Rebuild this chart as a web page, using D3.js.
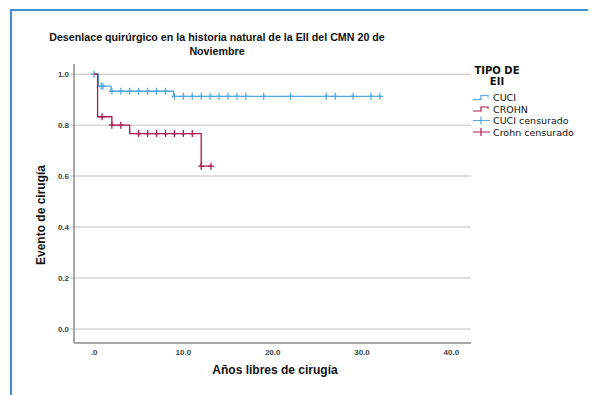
<!DOCTYPE html>
<html><head><meta charset="utf-8">
<script src="https://cdn.jsdelivr.net/npm/d3@7/dist/d3.min.js"></script>
<style>body{margin:0;background:#fff}svg{display:block}</style>
</head><body>
<script>
// Data
const titleLines = ["Desenlace quirúrgico en la historia natural de la EII del CMN 20 de", "Noviembre"];
const xTicks = [0, 10, 20, 30, 40];
const xTickLabels = [".0", "10.0", "20.0", "30.0", "40.0"];
const yTicks = [0, 0.2, 0.4, 0.6, 0.8, 1.0];
const yTickLabels = ["0.0", "0.2", "0.4", "0.6", "0.8", "1.0"];
const legendTitle = ["TIPO DE", "EII"];
const legendNames = ["CUCI", "CROHN", "CUCI censurado", "Crohn censurado"];
// CUCI (blue)
const cuciEventTimes = [0.5, 1.9, 8.9];
const cuciSurvival = [0.953, 0.933, 0.913];
const cuciCensored = [0, 0.8, 1.0, 2, 3, 4, 5, 6, 7, 8, 9, 10, 11, 12, 13, 14, 15, 16, 17, 19, 22, 26, 27, 29, 31, 32];
const cuciEnd = 32;
// CROHN (red)
const crohnEventTimes = [0.4, 2.0, 4.0, 12.0];
const crohnSurvival = [0.833, 0.8, 0.767, 0.639];
const crohnCensored = [0.9, 2, 3, 5, 6, 7, 8, 9, 10, 11, 12, 13.1];
const crohnEnd = 13.1;

const W = 590, H = 395;
const blue = "#55a8de", red = "#b01850";
const svg = d3.select("body").append("svg").attr("width", W).attr("height", H);

// frame
svg.append("path").attr("d", "M11,395 V10 H588").attr("fill", "none").attr("stroke", "#3f90d8").attr("stroke-width", 2);

const x = d3.scaleLinear().domain([-2.24, 42.2]).range([74, 471]);
const y = d3.scaleLinear().domain([-0.055, 1.04]).range([343, 64]);

// gridlines
svg.append("g").selectAll("line").data(yTicks).join("line")
  .attr("x1", 70).attr("x2", 471).attr("y1", d => y(d)).attr("y2", d => y(d))
  .attr("stroke", "#d4d4d4").attr("stroke-width", 1.5);

// axes lines
svg.append("line").attr("x1", 74).attr("x2", 74).attr("y1", 64).attr("y2", 343).attr("stroke", "#8a8a8a").attr("stroke-width", 1.5);
svg.append("line").attr("x1", 74).attr("x2", 471).attr("y1", 343).attr("y2", 343).attr("stroke", "#8a8a8a").attr("stroke-width", 1.5);

// tick labels
svg.append("g").selectAll("text").data(yTicks).join("text")
  .attr("x", 69).attr("y", d => y(d) + 3)
  .attr("text-anchor", "end").attr("font-family", "Liberation Sans, Arial").attr("font-size", 8).attr("font-weight", "bold").attr("fill", "#444")
  .text((d, i) => yTickLabels[i]);
svg.append("g").selectAll("text").data(xTicks).join("text")
  .attr("x", d => x(d)).attr("y", 355)
  .attr("text-anchor", "middle").attr("font-family", "Liberation Sans, Arial").attr("font-size", 8).attr("font-weight", "bold").attr("fill", "#444")
  .text((d, i) => xTickLabels[i]);

// titles
svg.append("g").selectAll("text").data(titleLines).join("text")
  .attr("x", 217).attr("y", (d, i) => 41 + i * 14)
  .attr("text-anchor", "middle").attr("font-family", "Liberation Sans, Arial").attr("font-size", 10.7).attr("font-weight", "bold").attr("fill", "#111")
  .text(d => d);
svg.append("text").attr("x", 275).attr("y", 374).attr("text-anchor", "middle")
  .attr("font-family", "Liberation Sans, Arial").attr("font-size", 12).attr("font-weight", "bold").attr("fill", "#111")
  .text("Años libres de cirugía");
svg.append("text").attr("x", 201).attr("y", 375).attr("text-anchor", "middle")
  .attr("font-family", "Liberation Sans, Arial").attr("font-size", 6).attr("fill", "#999").text(".");
svg.append("text").attr("transform", "translate(45,215) rotate(-90)").attr("text-anchor", "middle")
  .attr("font-family", "Liberation Sans, Arial").attr("font-size", 12).attr("font-weight", "bold").attr("fill", "#111")
  .text("Evento de cirugía");

// KM curves
function survAt(times, surv, t) {
  let s = 1;
  times.forEach((et, i) => { if (t >= et) s = surv[i]; });
  return s;
}
function stepPoints(times, surv, end) {
  const pts = [[0, 1]];
  times.forEach((t, i) => pts.push([t, surv[i]]));
  pts.push([end, surv[surv.length - 1]]);
  return pts;
}
const line = d3.line().x(d => x(d[0])).y(d => y(d[1])).curve(d3.curveStepAfter);

function drawSeries(times, surv, cens, end, color) {
  svg.append("path").datum(stepPoints(times, surv, end)).attr("d", line)
    .attr("fill", "none").attr("stroke", color).attr("stroke-width", 1.3);
  const g = svg.append("g").attr("stroke", color).attr("stroke-width", 1.3);
  cens.forEach(t => {
    const cx = x(t), cy = y(survAt(times, surv, t));
    g.append("path").attr("d", `M${cx - 3},${cy} H${cx + 3} M${cx},${cy - 3.5} V${cy + 3.5}`);
  });
}
drawSeries(cuciEventTimes, cuciSurvival, cuciCensored, cuciEnd, blue);
drawSeries(crohnEventTimes, crohnSurvival, crohnCensored, crohnEnd, red);

// legend
const lg = svg.append("g");
legendTitle.forEach((t, i) => {
  lg.append("text").attr("x", 497).attr("y", 73.5 + i * 11.8).attr("text-anchor", "middle")
    .attr("font-family", "DejaVu Sans").attr("font-size", 10).attr("font-weight", "bold").attr("fill", "#111").text(t);
});
const legColors = [blue, red, blue, red];
legendNames.forEach((name, i) => {
  const cy = 97.5 + i * 11.5;
  const c = legColors[i];
  if (i < 2) {
    lg.append("path").attr("d", `M473,${cy + 2} H481 V${cy - 2} H488 V${cy}`).attr("fill", "none").attr("stroke", c).attr("stroke-width", 1.2);
  } else {
    lg.append("path").attr("d", `M473,${cy} H490 M481,${cy - 4} V${cy + 4}`).attr("fill", "none").attr("stroke", c).attr("stroke-width", 1.2);
  }
  lg.append("text").attr("x", 493).attr("y", cy + 3.5)
    .attr("font-family", "DejaVu Sans").attr("font-size", 9.5).attr("fill", "#111").text(name);
});
</script>
</body></html>
